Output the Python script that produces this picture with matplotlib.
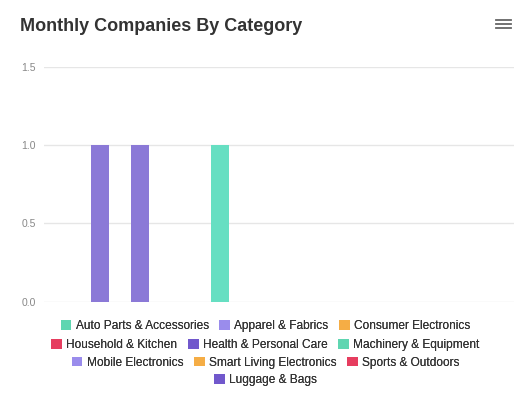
import matplotlib
matplotlib.use("Agg")
import matplotlib.pyplot as plt
from matplotlib.patches import Patch
import numpy as np

plt.rcParams['font.family'] = ['Liberation Sans', 'DejaVu Sans']

months = list(range(12))
series = ["Auto Parts & Accessories", "Apparel & Fabrics", "Consumer Electronics",
          "Household & Kitchen", "Health & Personal Care", "Machinery & Equipment",
          "Mobile Electronics", "Smart Living Electronics", "Sports & Outdoors",
          "Luggage & Bags"]
colors = ["#5fd6b1", "#9a8cec", "#f5ad45", "#e63d5f", "#7158cc", "#5fd6b1",
          "#9a8cec", "#f5ad45", "#e63d5f", "#7158cc"]
# monthly counts per series
values = {s: [0]*12 for s in series}
values["Health & Personal Care"] = [0, 1, 1, 0, 0, 0, 0, 0, 0, 0, 0, 0]
values["Machinery & Equipment"] = [0, 0, 0, 0, 1, 0, 0, 0, 0, 0, 0, 0]
bar_colors = {"Health & Personal Care": "#8b79d7", "Machinery & Equipment": "#66dfc2"}

fig = plt.figure(figsize=(5.31, 4.12), dpi=100)
ax = fig.add_axes([0.083, 0.268, 0.885, 0.57])
x = np.arange(12)
bottom = np.zeros(12)
for s in series:
    v = np.array(values[s], dtype=float)
    if v.any():
        ax.bar(x, v, width=0.45, bottom=bottom, color=bar_colors.get(s), zorder=3)
    bottom += v
ax.set_xlim(-0.38, 11.3)
ax.set_ylim(0, 1.5)
ax.set_yticks([0, 0.5, 1.0, 1.5])
ax.set_yticklabels(["0.0", "0.5", "1.0", "1.5"])
ax.tick_params(axis='y', length=0, labelsize=7.5, labelcolor="#888888", pad=6)
ax.set_xticks([])
for sp in ax.spines.values():
    sp.set_visible(False)
ax.grid(axis='y', color="#e6e6e6", linewidth=1, zorder=0)

fig.text(0.038, 0.935, "Monthly Companies By Category", fontsize=13,
         fontweight='bold', color="#333333", va='center')
for i, yy in enumerate([0.951, 0.941, 0.931]):
    fig.add_artist(plt.Line2D([0.934, 0.962], [yy, yy], color="#666666", lw=1.3))

rows = [[0, 1, 2], [3, 4, 5], [6, 7, 8], [9]]
ys = [0.208, 0.163, 0.120, 0.077]
for r, yy in zip(rows, ys):
    handles = [Patch(facecolor=colors[i], edgecolor='none', label=series[i]) for i in r]
    leg = fig.legend(handles=handles, loc='center', bbox_to_anchor=(0.5, yy),
                     ncol=len(r), frameon=False, fontsize=8.6, handlelength=0.9,
                     handleheight=0.9, handletextpad=0.35, columnspacing=0.9,
                     borderpad=0, labelcolor="#333333")
    fig.add_artist(leg)

fig.savefig("out.png", dpi=100)
